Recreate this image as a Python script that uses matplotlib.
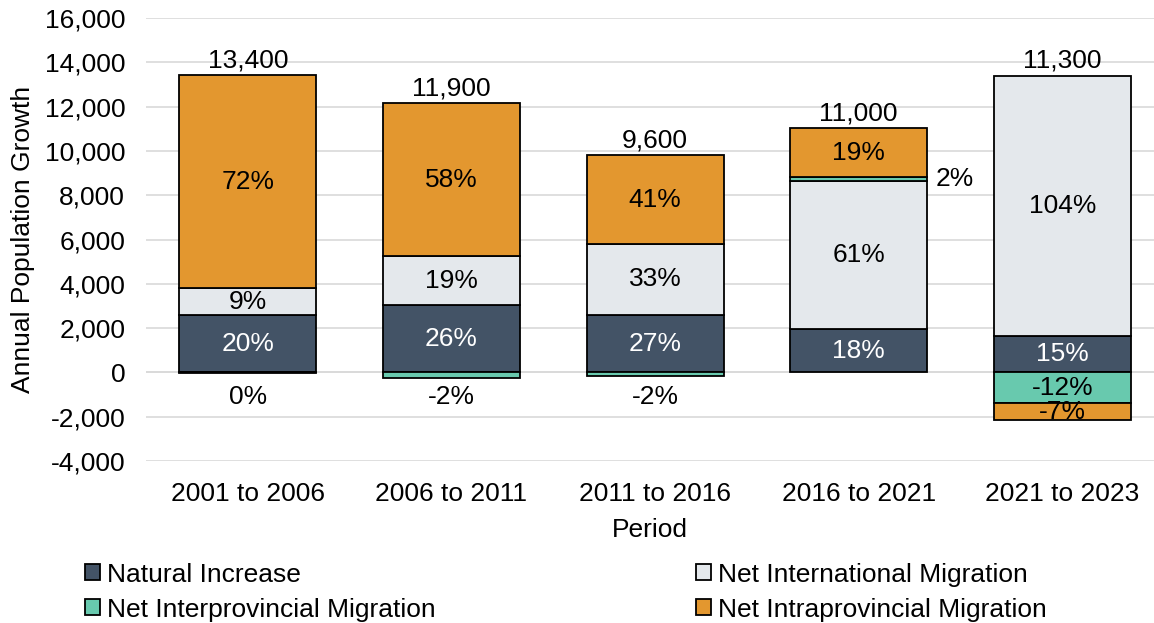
import matplotlib
matplotlib.use('Agg')
import matplotlib.pyplot as plt
import numpy as np

plt.rcParams['font.family'] = ['Liberation Sans', 'DejaVu Sans']

# data
periods = ['2001 to 2006', '2006 to 2011', '2011 to 2016', '2016 to 2021', '2021 to 2023']
natural = [2600, 3050, 2600, 1950, 1650]
international = [1200, 2200, 3200, 6700, 11750]
interprovincial = [-30, -250, -180, 180, -1380]
intraprovincial = [9630, 6900, 4000, 2200, -770]
totals = [13400, 11900, 9600, 11000, 11300]

pct_natural = ['20%', '26%', '27%', '18%', '15%']
pct_international = ['9%', '19%', '33%', '61%', '104%']
pct_interprovincial = ['0%', '-2%', '-2%', '2%', '-12%']
pct_intraprovincial = ['72%', '58%', '41%', '19%', '-7%']

series = [
    ('Natural Increase', natural, pct_natural, '#435366', 'white'),
    ('Net International Migration', international, pct_international, '#E4E8EC', 'black'),
    ('Net Interprovincial Migration', interprovincial, pct_interprovincial, '#68C9AE', 'black'),
    ('Net Intraprovincial Migration', intraprovincial, pct_intraprovincial, '#E3972F', 'black'),
]

FS = 19

fig = plt.figure(figsize=(11.54, 6.23), dpi=100)
ax = fig.add_axes([0.1265, 0.26, 0.8735, 0.711])

x = np.arange(len(periods))
w = 0.673
pos_bottom = np.zeros(len(periods))
neg_bottom = np.zeros(len(periods))
handles = {}

for name, vals, pcts, col, tcol in series:
    vals = np.array(vals, dtype=float)
    bottoms = np.where(vals >= 0, pos_bottom, neg_bottom)
    bars = ax.bar(x, vals, w, bottom=bottoms, color=col, edgecolor='black',
                  linewidth=1.3, zorder=3, label=name)
    handles[name] = bars
    for i in range(len(periods)):
        v = vals[i]
        b = bottoms[i]
        if name == 'Net Interprovincial Migration' and abs(v) < 500:
            if v >= 0:
                # small positive slice: label to the right of the bar
                ax.text(x[i] + w / 2 + 0.04, b + v / 2, pcts[i], ha='left',
                        va='center', fontsize=FS, color='black', zorder=4)
            else:
                ax.text(x[i], -1100, pcts[i], ha='center', va='center',
                        fontsize=FS, color='black', zorder=4)
        else:
            ax.text(x[i], b + v / 2, pcts[i], ha='center', va='center',
                    fontsize=FS, color=tcol, zorder=4)
    pos_bottom = pos_bottom + np.where(vals >= 0, vals, 0)
    neg_bottom = neg_bottom + np.where(vals < 0, vals, 0)

for i in range(len(periods)):
    ax.annotate(f'{totals[i]:,}', (x[i], pos_bottom[i]), xytext=(0, 2),
                textcoords='offset points', ha='center', va='bottom', fontsize=FS)

ax.set_ylim(-4000, 16000)
ax.set_xlim(-0.5, 4.45)
ax.set_yticks(np.arange(-4000, 16001, 2000))
ax.yaxis.set_major_formatter(matplotlib.ticker.FuncFormatter(lambda v, p: f'{int(v):,}'))
ax.set_xticks(x)
ax.set_xticklabels(periods)
ax.tick_params(axis='both', length=0, labelsize=FS)
ax.tick_params(axis='x', pad=15)
ax.tick_params(axis='y', pad=15)
ax.grid(axis='y', color='#D9D9D9', linewidth=1.2, zorder=0)
ax.axhline(0, color='#D9D9D9', linewidth=1.2, zorder=0)
for s in ax.spines.values():
    s.set_visible(False)
ax.set_ylabel('Annual Population Growth', fontsize=FS)
ax.yaxis.set_label_coords(-0.110, 0.5)
ax.set_xlabel('Period', fontsize=FS, labelpad=9)

order = ['Natural Increase', 'Net Interprovincial Migration',
         'Net International Migration', 'Net Intraprovincial Migration']
fig.legend([handles[n] for n in order], order, ncol=2, loc='lower left',
           bbox_to_anchor=(85 / 1154, 0.002), frameon=False, fontsize=FS,
           borderpad=0, borderaxespad=0,
           handlelength=0.55, handleheight=0.55, handletextpad=0.3,
           columnspacing=9.85, labelspacing=0.42)

fig.savefig('out.png', dpi=100)
